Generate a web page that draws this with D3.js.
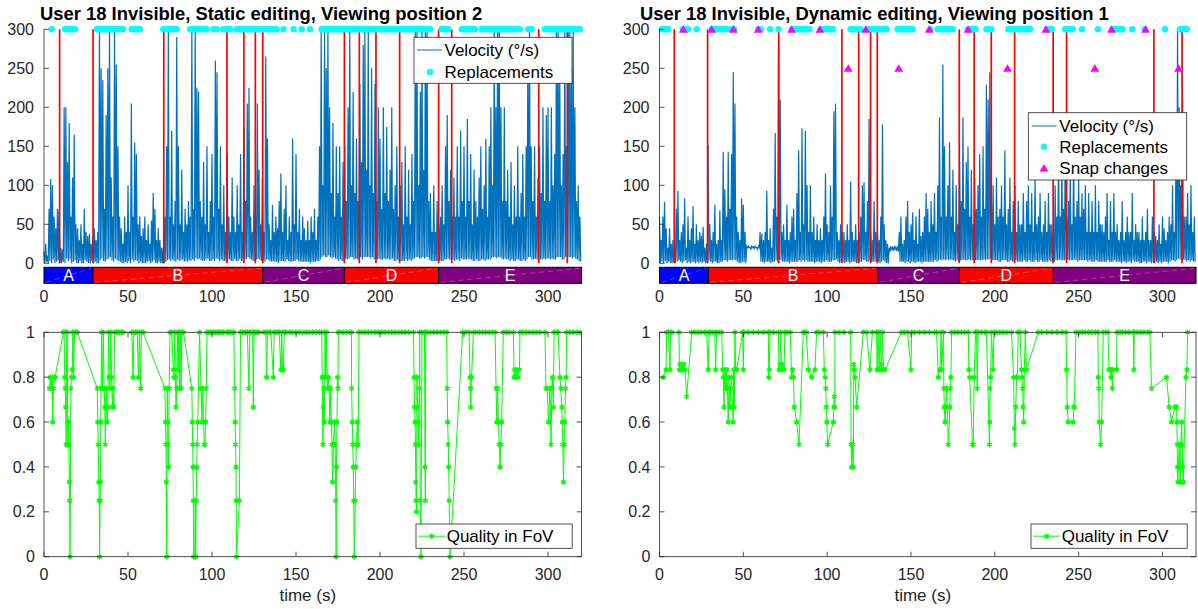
<!DOCTYPE html>
<html>
<head>
<meta charset="utf-8">
<script src="https://cdn.jsdelivr.net/npm/d3@7"></script>
<style>
  body { margin: 0; background: #fff; }
  svg text { font-family: "Liberation Sans", Arial, Helvetica, sans-serif; fill: #262626; }
</style>
</head>
<body>
<svg id="chart" width="1198" height="609"></svg>
<script>
// ---- data ----
const TITLES = ["User 18 Invisible, Static editing, Viewing position 2",
                "User 18 Invisible, Dynamic editing, Viewing position 1"];
const X_TICKS = [0, 50, 100, 150, 200, 250, 300];
const V_TICKS = [0, 50, 100, 150, 200, 250, 300];
const Q_TICKS = [0, 0.2, 0.4, 0.6, 0.8, 1];
const VEL_STEP = 0.5; // seconds between velocity samples

const SEG_NAMES = ["A", "B", "C", "D", "E"];
const SEG_BOUNDS = [0, 29.2, 130.2, 178.8, 234.9, 320];

// head velocity (deg/s), static editing
const VEL_L = [
15,0,25,2,10,0,70,3,108,0,100,5,60,0,45,2,70,4,68,0,
20,0,18,2,200,0,200,6,130,3,180,5,60,0,110,2,165,4,50,0,
45,0,30,3,50,0,25,0,70,4,40,2,35,0,38,0,25,3,35,0,
45,2,30,0,40,0,300,4,250,6,235,3,70,2,190,5,250,6,300,8,
110,4,60,2,300,6,255,4,150,3,60,2,45,0,25,0,60,2,40,0,
100,3,40,0,205,5,60,2,155,4,140,3,50,0,60,2,35,0,45,0,
60,0,30,2,50,3,25,0,55,2,90,4,70,0,30,0,45,2,30,0,
20,0,20,0,60,2,150,4,300,5,60,3,170,5,50,3,80,2,290,5,
150,3,50,4,120,5,40,2,70,3,50,2,80,4,60,3,300,5,70,3,
300,6,225,5,220,6,80,4,60,3,130,3,50,5,150,6,40,3,80,3,
140,5,60,3,260,6,245,5,70,3,150,5,50,3,100,3,40,2,140,5,
60,5,40,3,110,3,60,6,40,3,100,3,50,5,140,3,40,3,175,6,
80,5,205,8,225,6,60,5,40,3,100,3,60,5,205,6,120,5,50,3,
110,3,40,2,265,5,160,5,50,3,30,2,75,3,40,2,60,2,45,0,
80,3,115,3,40,3,70,2,100,5,30,3,60,2,40,2,160,3,50,3,
140,5,40,3,70,2,30,2,60,2,45,2,30,2,55,2,30,0,60,2,
40,2,70,2,30,3,60,3,150,5,300,8,100,10,300,8,250,8,300,10,
200,8,90,6,180,8,60,6,150,5,90,3,150,5,60,3,130,3,150,6,
80,5,200,6,300,8,100,8,220,5,90,6,160,5,80,5,230,8,130,5,
280,8,300,8,120,8,300,8,100,6,250,8,90,5,230,6,80,5,200,6,
160,5,70,5,200,6,90,5,175,6,80,5,120,5,200,6,70,3,100,3,
150,5,60,3,100,3,130,3,50,3,150,5,60,3,120,5,50,3,140,5,
80,6,300,8,300,8,100,6,220,6,300,8,120,6,300,8,300,8,80,5,
90,3,40,3,100,3,40,3,80,3,50,3,60,3,100,3,50,5,150,5,
190,6,80,5,120,3,60,5,110,3,60,5,150,5,60,3,170,6,80,5,
150,5,60,5,185,6,80,5,140,5,50,3,120,3,80,5,60,3,110,3,
150,5,70,5,100,3,160,5,60,5,150,5,200,6,100,8,300,8,200,6,
300,8,300,8,200,6,80,5,200,6,80,5,120,5,60,3,130,5,50,3,
100,3,60,5,150,5,60,3,90,3,140,5,60,3,150,5,260,8,300,8,
150,5,80,5,150,6,60,5,110,3,150,5,90,5,200,6,80,5,190,6,
200,6,80,5,200,6,100,5,140,5,300,8,300,8,250,8,100,5,140,5,
300,8,150,8,300,8,300,8,250,6,300,8,200,6,80,5,100,3,60,2
];

// head velocity (deg/s), dynamic editing
const VEL_R = [
60,0,30,2,60,0,79,3,45,0,20,2,45,0,25,0,30,2,20,0,
70,2,93,4,30,2,40,0,50,2,83,4,20,0,60,2,30,0,45,2,
73,2,25,0,50,2,30,0,40,2,35,0,47,2,20,0,25,0,152,4,
50,2,30,0,40,2,75,2,25,0,30,0,68,2,30,2,143,4,95,4,
60,2,143,4,70,4,140,4,245,5,205,4,60,2,40,0,30,0,83,2,
75,2,40,0,22,20,22,20,20,18,22,20,21,19,22,20,20,18,22,20,
40,2,38,2,30,0,40,2,93,2,30,2,45,0,20,2,70,2,167,4,
60,2,290,5,210,4,40,2,50,2,30,2,75,2,30,0,40,2,60,2,
70,2,30,2,90,2,145,4,40,2,173,4,50,2,170,4,100,2,40,2,
100,2,40,2,60,0,30,2,50,2,30,2,45,0,30,2,60,2,115,4,
50,2,40,2,100,2,60,4,195,4,205,5,40,2,30,0,50,2,40,2,
40,0,30,2,50,2,30,0,105,2,40,2,30,2,50,0,30,0,40,2,
60,2,100,4,104,4,40,2,80,2,185,4,40,2,30,2,80,2,40,2,
40,2,30,0,60,2,178,4,50,2,30,0,25,0,20,15,22,18,20,16,
22,18,21,17,20,15,40,2,60,2,25,2,30,0,60,2,80,2,40,0,
50,2,65,2,30,0,60,2,25,2,70,2,35,0,40,2,60,2,90,2,
70,2,40,2,80,2,50,2,90,4,40,2,100,4,187,5,60,4,255,5,
150,4,60,5,100,4,155,5,60,4,120,4,40,2,100,4,50,2,130,4,
80,4,187,5,70,4,130,4,150,5,60,4,120,4,50,4,110,4,70,4,
100,4,140,4,60,4,150,5,70,4,229,5,210,5,245,6,80,4,100,4,
50,4,110,4,60,2,70,2,100,4,60,4,145,4,50,2,70,2,110,4,
40,2,80,2,100,4,40,2,80,2,50,2,50,2,90,4,40,2,80,2,
100,4,50,2,90,2,40,2,110,4,50,2,60,2,90,4,40,2,50,2,
80,2,40,2,90,4,50,2,50,2,40,2,100,4,60,4,145,5,60,4,
130,4,70,4,150,5,60,4,80,4,120,4,50,4,140,5,60,4,80,2,
110,4,60,4,90,4,70,4,100,4,40,2,90,4,40,2,80,2,40,2,
100,4,40,2,80,2,50,2,50,2,40,2,60,2,90,4,30,2,80,2,
40,2,90,4,40,2,50,2,30,2,40,0,80,2,30,2,40,0,60,2,
40,2,40,0,90,4,30,2,50,2,40,2,40,0,30,0,60,2,30,2,
40,0,70,2,30,2,30,0,60,2,40,0,35,2,30,0,50,2,25,0,
60,2,45,2,30,2,40,0,60,2,50,4,100,4,40,2,120,4,300,6,
200,5,100,5,210,5,60,4,60,2,90,4,50,2,100,4,40,2,60,2
];

// editing cut times (s)
const EDIT_L = [9.3, 29.2, 71.3, 108.9, 119, 125.8, 130.2, 178.8, 187.7, 197.6, 211.7, 234.9, 242.7, 294.5, 311.5];
const EDIT_R = [8.8, 28.7, 71.1, 108.8, 118.8, 125.9, 129.9, 178.8, 187.7, 197.9, 211.8, 234.8, 242.8, 294.9, 311.7];

// replacement times (s), drawn at 300
const REPL_L = [4.6, 12.5, 14, 15.5, 17, 18.5, 31.5, 33, 34.5, 36, 37.5, 39, 40.5, 42, 43.5, 45, 47,
  52.2, 54, 55.5, 57, 71, 72.5, 74, 75.5, 77, 79, 87, 88.5, 90, 91.5, 93, 95, 96.8, 100.8, 102.8,
  106.7, 108.2, 109.5, 110.7, 114.7, 116.2, 117.7, 119.2, 120.7, 122.2, 123.7, 125.2, 126.7, 128.2, 130.5,
  132.5, 134, 135.5, 137, 138.5, 142.5, 148.6, 153.4, 158.3,
  165.3, 166.8, 168.3, 169.8, 171.3, 172.8, 174.3, 175.8, 177.3, 178.8, 180.3, 181.8, 183.3, 184.8, 186.3,
  187.8, 189.3, 190.8, 192.3, 193.8, 195.3, 196.8, 198.3, 199.8, 201.3, 202.8, 204.3, 205.8, 207.3, 208.8,
  210.3, 211.8, 213.3, 214.8, 216.3, 217.8, 219.3, 220.8, 222.3, 223.8, 225.3, 226.8, 228.3, 229.8,
  236.7, 238.2, 239.5, 240.7, 248.6, 250.2, 251.8, 253.4, 255, 256.5,
  260.5, 262, 263.6, 265.2, 266.8, 268.4, 270, 271.6, 273.2, 274.8, 276.4, 278, 279.6, 281.2, 283.3,
  288.3, 290.3, 298.2, 299.8, 301.4, 303, 304.6, 306.2, 307.8, 309.4, 311, 312.6, 314.2, 315.8, 317.4, 319];
const REPL_R = [1.3, 2.6, 3.9, 5.2, 14, 15.5, 17, 22.2, 31, 32.5, 34, 35.5, 37, 38.5, 40, 43, 44.5,
  59, 60.5, 66, 71, 79, 80.5, 82, 83.5, 85, 86.5, 88, 89.5, 96, 97.5, 99, 100.5, 102, 103.5,
  114, 115.5, 117, 118.5, 120, 124, 125.5, 127, 128.5, 130, 131.5, 133, 134.5, 135.5,
  142, 143.5, 145, 146.5, 148, 149.5, 151, 161.6, 166, 167.5, 169, 170.5, 172, 173.5, 175,
  184, 185.5, 187, 188.5, 195, 196.5, 198, 208, 209.5, 211, 212.5, 214, 215.5, 217, 218.5, 220, 221,
  231, 232.5, 234, 242, 243.5, 245, 246.5, 252, 261.5, 270, 271.5, 273, 274.5, 276,
  282, 289.5, 301.5, 310.5, 312, 313.5, 314.5];

// snap changes (dynamic editing only): time and plotted level
const SNAP_T = [14.2, 31.1, 44, 58.9, 78.8, 95.7, 123, 160.9, 184.1, 230.5, 269.6, 289.9,
                112.6, 142.7, 207.6, 259.7, 309.6];
const SNAP_V = [300, 300, 300, 300, 300, 300, 300, 300, 300, 300, 300, 300,
                250, 250, 250, 250, 250];

// quality in FoV: [time, quality]
const QUAL_L = [
[3.2,0.75],[3.8,0.8],[4.3,0.75],[5.0,0.8],[5.2,0.6],[5.6,0.75],[6.4,0.8],[6.6,0.8],
[11.5,1],[12,1],[12.3,0.8],[12.6,0.75],[12.9,0.667],[13.2,0.5],[13.5,1],[13.8,1],[14.2,0.5],[14.5,0.6],[14.8,0.5],
[15.1,0.333],[15.3,0.25],[15.5,0],[16.0,0.75],[16.4,0.8],[16.8,0.833],[17.2,1],[17.6,0.8],[18.2,1],[19,1],[19.8,1],
[31.7,0.75],[32.0,0.6],[32.3,0.5],[32.6,0.333],[32.9,0.25],[33.1,0],[33.4,0.25],[33.6,0.333],[33.8,0.6],[34.0,0.75],
[34.3,1],[34.8,0.75],[35.3,1],[35.8,0.75],[36.2,0.667],[36.5,0.5],[37.0,0.75],[37.5,0.6],[38.0,0.667],[38.4,1],
[38.8,0.8],[39.3,0.75],[39.8,1],[40.2,0.8],[40.7,0.667],[41.2,0.75],[41.6,0.667],[42,1],[43,1],[44,1],[45,1],[46,1],[47,1],
[52.3,1],[53,0.8],[53.5,1],[54.5,1],[55.5,1],[56.2,0.8],[56.8,1],[57.5,0.75],[58,1],[59,1],
[72,0.75],[72.3,0.6],[72.6,0.5],[72.8,0.333],[73.1,0],[73.4,0.75],[73.7,0.6],[73.9,0.5],[74.2,0.4],[74.5,0.75],
[75,1],[76,1],[77,0.833],[77.4,0.8],[77.8,1],[78.2,0.8],[78.6,0.667],[79,0.75],[79.4,1],[79.8,0.833],[80.3,1],
[80.7,0.75],[81.2,1],[81.6,0.75],[82,1],[83,1],
[88,0.75],[88.3,0.6],[88.5,0.5],[88.7,0.4],[88.9,0.25],[89.1,0],[89.7,0],[90,0.25],[90.3,0],[90.6,0.25],[90.9,0.4],
[91.2,0.5],[91.5,0.6],[92.6,1],[93.5,0.75],[94,0.6],[94.5,0.75],[95,0.6],[95.4,0.5],[95.8,0.5],[96.2,0.6],[96.6,0.75],
[97,1],[98,1],[99,1],[100,1],[101,1],[102,1],[103,1],[104,1],[105,1],[106,1],[107,1],[109,1],[110,1],[111,1],[112,1],[113,1],
[113.5,0.75],[113.8,0.6],[114,0.5],[114.3,0.4],[114.4,0.25],[114.6,0],[116.3,0.25],[117,1],[118,1],[119,1],[120,1],[121,1],
[122,0.75],[122.5,1],[123,1],[124.2,1],[124.6,0.667],[125,1],[126,1],[127,1],[128,1],
[131,1],[132,1],[132.5,0.8],[133,1],[134,1],[135,1],[136.5,0.8],[137,1],[138,1],
[139.5,1],[140,1],[141,0.833],[141.5,1],[142,0.833],[142.5,0.833],[143,1],[144,1],[146.4,1],[148,1],[150,1],[152,1],
[154,1],[156,1],[158,1],[160,1],[162,1],[164,1],[165.3,1],
[165.6,0.8],[166,0.5],[166.3,0.667],[166.6,0.75],[166.9,0.6],[167.3,1],[167.7,0.8],[168.2,1],[168.7,0.75],[169.3,0.8],
[169.7,0.75],[170.2,0.6],[170.6,0.75],[171,0.6],[171.4,0.5],[171.8,0.333],[172.3,0.5],[172.8,0.6],[173.3,0.5],
[173.7,0.25],[173.9,0],[174.1,0.4],[174.4,0.6],[174.7,0.8],[175,0.75],[175.2,1],[176,1],[178,1],[180,1],[182,1],[183,1],
[183.1,0.75],[183.5,0.6],[183.8,0.5],[184.1,0.4],[184.4,0.25],[184.7,0],[185.2,0.25],[185.6,0.4],[186,0.5],[186.5,0.6],
[187,0.5],[187.5,1],[189,1],[191,1],[193,1],[195,1],[197,1],[199,1],[201,1],[203,1],[205,1],[207,1],[209,1],[211,1],
[213,1],[215,1],[217,1],[219.9,1],
[220.3,0.8],[220.6,0.667],[220.9,0.6],[221.1,0.5],[221.3,0.333],[221.5,0.25],[221.7,0.2],[222,0.8],[222.4,0.667],
[222.7,0.6],[223,0.5],[223.4,0.75],[223.6,1],[223.9,0.25],[224.4,0],[225,1],[226.5,1],[226.8,0.4],[227,0.25],[227.2,1],
[228,1],[230,1],[232,1],[234,1],[236,1],[238,1],[239.7,1],
[240,0.75],[240.3,0.6],[240.6,0.5],[240.9,0.4],[241.2,0.25],[241.7,0],[249.2,1],[251,1],[253,1],
[253.6,0.8],[253.8,0.75],[254,0.667],[254.2,0.75],[254.5,0.8],[255.6,1],[257,1],[259,1],[261,1],[263,1],[265,1],[267,1],[268.5,1],
[269.1,0.75],[269.5,0.6],[270,0.75],[270.5,0.6],[271,0.5],[271.5,0.4],[271.9,0.5],[272.4,0.6],[273.4,1],[275,1],[277,1],[279.4,1],
[279.8,0.8],[280.2,0.833],[280.8,0.8],[281.5,0.833],[282.2,0.8],[283,0.833],[283.3,1],[285,1],[287,1],[289,1],[291,1],
[293,1],[295,1],[298.2,1],
[298.8,0.75],[299.5,0.75],[300.3,0.6],[301.2,0.75],[301.8,0.5],[302.3,0.75],[302.7,0.8],[303.2,0.667],[303.6,1],[305.2,1],[306,1],
[307.1,0.8],[307.6,0.75],[308.2,0.667],[308.5,0.6],[308.8,0.5],[309.2,0.333],[309.6,0.5],[310,0.6],[310.4,0.75],[310.8,0.8],
[311.1,1],[313,1],[315,1],[317,1],[319,1]
];
const QUAL_R = [
[2.3,0.8],[3.9,0.833],[4.3,1],[5.3,1],[6.3,0.833],[6.6,1],[7.3,1],
[11.6,1],[11.9,0.833],[12.2,0.857],[12.8,0.833],[13.4,0.857],[14,0.833],[14.6,0.857],[15.2,0.833],[16.2,0.714],
[19.2,1],[21,1],[23,1],[25,1],[27,1],[28.1,1],
[29.1,0.833],[29.6,1],[30.1,1],[31.5,1],[33,1],[33.5,0.833],[34,1],[35.5,1],[37.1,1],
[37.7,0.833],[38.1,0.8],[38.5,0.667],[38.9,0.833],[39.3,0.8],[39.7,0.75],[40.1,0.833],[40.5,0.75],[41,0.6],[41.5,0.8],
[42,0.667],[42.5,0.75],[43,0.8],[43.5,0.667],[44,0.6],[44.3,0.833],[44.6,0.667],[45,1],[45.4,0.833],[46,0.833],
[49.6,1],[50,0.833],[50.3,1],[53,1],[56,1],[59,1],[62,1],[64.9,1],[65.2,0.8],[65.5,0.833],[65.9,1],[68,1],[70.9,1],
[71.3,0.833],[71.8,0.857],[72.3,1],[72.8,0.833],[73.3,0.857],[74.3,0.833],[74.8,1],[76,1],[78,1],
[78.8,0.8],[79.4,0.833],[79.9,0.8],[80.4,0.667],[81.8,0.6],[83.2,0.5],[85.8,1],[86.5,1],[87.5,1],[88.8,0.833],
[90.8,0.8],[92.7,0.833],[93.7,1],[95,1],[97.7,1],
[98.3,0.833],[98.8,0.8],[99.2,0.75],[99.5,0.667],[99.8,0.6],[100.3,0.5],[103.7,0.6],[104,0.667],[104.3,0.714],
[104.5,0.667],[104.7,1],[107,1],[110,1],[114,1],
[114.3,0.5],[114.6,0.4],[115,0.5],[115.6,0.4],[115.9,0.857],[116.2,0.833],[116.6,0.8],[117.6,0.667],[121.6,1],
[123.5,1],[125.5,0.833],[127,1],[129.5,1],
[129.8,0.833],[130.4,1],[131,0.833],[131.6,1],[132.2,0.857],[132.5,0.833],[133,1],[133.6,0.833],[134.5,0.833],
[144.4,1],[146,1],[148,1],[150,0.833],[150.4,1],[152,1],[155,1],[158,1],[161,1],[164,1],[165.3,1],
[166.3,0.8],[167.3,0.833],[168,1],[168.3,0.833],[169.4,1],[169.6,0.75],[169.9,0.667],[170.3,0.6],[170.8,0.667],
[171.3,0.75],[172.3,0.5],[173.2,0.667],[173.5,0.75],[173.8,0.8],[174.2,1],[176,1],[178,1],[180,1],[182,1],[184.2,1],
[184.5,0.833],[185,0.8],[186.7,0.5],[187.1,0.5],[187.7,0.8],[188.5,1],[189.1,1],[189.5,0.75],[190.1,1],[192,1],
[194.1,1],[195,1],
[196.8,0.5],[197,0.6],[197.2,0.75],[197.5,0.8],[198,1],[199,0.833],[199.5,1],[201,1],[203,1],[205,1],[207,1],[210,1],
[211.2,0.8],[211.7,0.572],[212,0.5],[212.5,0.667],[213,0.8],[213.5,0.8],[213.9,1],[215,1],
[215.9,0.833],[216.3,0.8],[216.6,0.75],[216.9,0.667],[217.2,0.6],[217.6,0.833],[218.2,1],[218.9,0.833],
[225.9,1],[228,1],[231,1],[234,1],[237,1],[240,1],[242.5,1],
[242.8,0.833],[243.2,0.667],[243.8,0.6],[246.8,0.6],[247.1,0.667],[247.4,0.667],[248.4,1],[250,1],[252,1],
[254,1],[256,1],[258,1],[260,1],[261.5,1],
[261.7,0.8],[262,0.75],[262.3,0.6],[263.1,0.5],[263.7,0.6],[264.7,1],[266,1],[267.5,1],
[268.1,0.833],[269,0.833],[269.3,0.8],[269.6,0.833],[270.1,0.75],[270.6,0.833],[272.6,0.833],[272.9,1],[274.6,1],
[276,1],[278,1],[280,1],[282.6,1],[282.9,0.833],[283.2,1],[285,1],[287,1],[289,1],[291,1],[292.5,1],
[293.5,0.75],[302.4,0.8],[304,0.667],[305.4,0.6],[307.4,0.667],[308.4,0.667],[308.6,0.6],[308.8,0.5],[309,0.4],
[309.2,0.333],[309.5,0.4],[310,0.5],[310.6,0.333],[311,0.5],[311.4,0.6],[311.8,0.5],[312,0.4],[312.2,0.333],
[312.4,0.333],[314,0.8],[314.6,0.833],[315,1]
];

// ---- drawing ----
const svg = d3.select("#chart");
const SEG_COLORS = {A: "#0000ff", B: "#ff0000", C: "#800080", D: "#ff0000", E: "#800080"};
const AXIS = "#262626";

const panels = [
  {title: TITLES[0], titleX: 40, left: 44, right: 581.6, vel: VEL_L, edits: EDIT_L, repl: REPL_L,
   snapT: [], snapV: [], qual: QUAL_L},
  {title: TITLES[1], titleX: 640, left: 659.5, right: 1196, vel: VEL_R, edits: EDIT_R, repl: REPL_R,
   snapT: SNAP_T, snapV: SNAP_V, qual: QUAL_R}
];

const vTop = 29.3, vBottom = 263.3;
const barTop = 267.3, barBottom = 283.3;
const qTop = 332.3, qBottom = 556.7;
const tickLen = 5;

panels.forEach((p, pi) => {
  const x = d3.scaleLinear().domain([0, 320]).range([p.left, p.right]);
  const yV = d3.scaleLinear().domain([0, 300]).range([vBottom, vTop]);
  const yQ = d3.scaleLinear().domain([0, 1]).range([qBottom, qTop]);

  // title
  svg.append("text")
    .attr("x", p.titleX).attr("y", 20)
    .attr("font-size", 18.4).attr("font-weight", "bold")
    .style("fill", "#000")
    .text(p.title);

  // ---- velocity panel ----
  const top = svg.append("g");
  top.append("path")
    .datum(p.vel)
    .attr("d", d3.line().x((d, i) => x(i * VEL_STEP)).y(d => yV(d)))
    .attr("fill", "none")
    .attr("stroke", "#0072bd")
    .attr("stroke-width", 1.2)
    .attr("stroke-linejoin", "miter");

  top.selectAll(".edit").data(p.edits).join("line")
    .attr("x1", d => x(d)).attr("x2", d => x(d))
    .attr("y1", yV(0)).attr("y2", yV(300))
    .attr("stroke", "#ff0000").attr("stroke-width", 1.7);

  top.selectAll(".repl").data(p.repl).join("circle")
    .attr("cx", d => x(d)).attr("cy", yV(300)).attr("r", 3.2)
    .attr("fill", "#00ffff");

  const tri = d3.symbol(d3.symbolTriangle, 34);
  top.selectAll(".snap").data(p.snapT).join("path")
    .attr("d", tri)
    .attr("transform", (d, i) => `translate(${x(d)},${yV(p.snapV[i]) + 1})`)
    .attr("fill", "#ff00ff");

  // left axis with inward ticks
  top.append("line").attr("x1", p.left).attr("x2", p.left).attr("y1", vTop).attr("y2", vBottom)
    .attr("stroke", AXIS).attr("stroke-width", 0.8);
  V_TICKS.forEach(v => {
    top.append("line").attr("x1", p.left).attr("x2", p.left + tickLen)
      .attr("y1", yV(v)).attr("y2", yV(v)).attr("stroke", AXIS).attr("stroke-width", 0.8);
    top.append("text").attr("x", p.left - 10).attr("y", yV(v)).attr("dy", "0.35em")
      .attr("text-anchor", "end").attr("font-size", 16).text(v);
  });

  // ---- segment bar ----
  const bar = svg.append("g");
  SEG_NAMES.forEach((name, i) => {
    const x0 = x(SEG_BOUNDS[i]), x1 = x(SEG_BOUNDS[i + 1]);
    bar.append("rect").attr("x", x0).attr("y", barTop).attr("width", x1 - x0).attr("height", barBottom - barTop)
      .attr("fill", SEG_COLORS[name]);
    bar.append("line").attr("x1", x0 + 2).attr("y1", barBottom - 1).attr("x2", x1 - 2).attr("y2", barTop + 1)
      .attr("stroke", "#fff").attr("stroke-opacity", 0.35).attr("stroke-width", 0.8)
      .attr("stroke-dasharray", "5,4");
    bar.append("text").attr("x", (x0 + x1) / 2).attr("y", barBottom - 2.6)
      .attr("text-anchor", "middle").attr("font-size", 16).style("fill", "#fff").text(name);
    if (i > 0) {
      bar.append("line").attr("x1", x0).attr("x2", x0).attr("y1", barTop).attr("y2", barBottom)
        .attr("stroke", "#000").attr("stroke-width", 1);
    }
  });
  bar.append("rect").attr("x", p.left).attr("y", barTop).attr("width", p.right - p.left)
    .attr("height", barBottom - barTop).attr("fill", "none").attr("stroke", "#000").attr("stroke-width", 1);
  X_TICKS.forEach(t => {
    bar.append("line").attr("x1", x(t)).attr("x2", x(t)).attr("y1", barBottom).attr("y2", barBottom - 3)
      .attr("stroke", "#000").attr("stroke-opacity", 0.4).attr("stroke-width", 0.8);
    bar.append("text").attr("x", x(t)).attr("y", 302).attr("text-anchor", "middle")
      .attr("font-size", 16).text(t);
  });

  // ---- quality panel ----
  const bot = svg.append("g");
  bot.append("path")
    .datum(p.qual)
    .attr("d", d3.line().x(d => x(d[0])).y(d => yQ(d[1])))
    .attr("fill", "none").attr("stroke", "#00ff00").attr("stroke-width", 1);
  const star = d3.symbol(d3.symbolAsterisk, 20);
  bot.selectAll(".qm").data(p.qual).join("path")
    .attr("d", star)
    .attr("transform", d => `translate(${x(d[0])},${yQ(d[1])})`)
    .attr("fill", "none").attr("stroke", "#00ff00").attr("stroke-width", 1.6);

  bot.append("rect").attr("x", p.left).attr("y", qTop).attr("width", p.right - p.left)
    .attr("height", qBottom - qTop).attr("fill", "none").attr("stroke", AXIS).attr("stroke-width", 0.8);
  Q_TICKS.forEach(v => {
    bot.append("line").attr("x1", p.left).attr("x2", p.left + tickLen).attr("y1", yQ(v)).attr("y2", yQ(v))
      .attr("stroke", AXIS).attr("stroke-width", 0.8);
    bot.append("line").attr("x1", p.right).attr("x2", p.right - tickLen).attr("y1", yQ(v)).attr("y2", yQ(v))
      .attr("stroke", AXIS).attr("stroke-width", 0.8);
    bot.append("text").attr("x", p.left - 9).attr("y", yQ(v)).attr("dy", "0.35em")
      .attr("text-anchor", "end").attr("font-size", 16).text(v);
  });
  X_TICKS.forEach(t => {
    bot.append("line").attr("x1", x(t)).attr("x2", x(t)).attr("y1", qBottom).attr("y2", qBottom - tickLen)
      .attr("stroke", AXIS).attr("stroke-width", 0.8);
    bot.append("line").attr("x1", x(t)).attr("x2", x(t)).attr("y1", qTop).attr("y2", qTop + tickLen)
      .attr("stroke", AXIS).attr("stroke-width", 0.8);
    bot.append("text").attr("x", x(t)).attr("y", 580).attr("text-anchor", "middle")
      .attr("font-size", 16).text(t);
  });
  bot.append("text").attr("x", (p.left + p.right) / 2 - 5).attr("y", 601)
    .attr("text-anchor", "middle").attr("font-size", 17).text("time (s)");

  // ---- legends ----
  const lg = svg.append("g");
  if (pi === 0) {
    lg.append("rect").attr("x", 414).attr("y", 37.3).attr("width", 158).attr("height", 46)
      .attr("fill", "#fff").attr("stroke", AXIS).attr("stroke-width", 0.8);
    lg.append("line").attr("x1", 417).attr("x2", 442).attr("y1", 50).attr("y2", 50)
      .attr("stroke", "#0072bd").attr("stroke-width", 1);
    lg.append("text").attr("x", 444.5).attr("y", 50).attr("dy", "0.35em").attr("font-size", 17).style("fill", "#000")
      .text("Velocity (°/s)");
    lg.append("circle").attr("cx", 430).attr("cy", 72).attr("r", 3.2).attr("fill", "#00ffff");
    lg.append("text").attr("x", 444.5).attr("y", 72).attr("dy", "0.35em").attr("font-size", 17).style("fill", "#000")
      .text("Replacements");
  } else {
    lg.append("rect").attr("x", 1028.3).attr("y", 112.7).attr("width", 158.4).attr("height", 67.3)
      .attr("fill", "#fff").attr("stroke", AXIS).attr("stroke-width", 0.8);
    lg.append("line").attr("x1", 1031.7).attr("x2", 1056.7).attr("y1", 126).attr("y2", 126)
      .attr("stroke", "#0072bd").attr("stroke-width", 1);
    lg.append("text").attr("x", 1059.3).attr("y", 126).attr("dy", "0.35em").attr("font-size", 17).style("fill", "#000")
      .text("Velocity (°/s)");
    lg.append("circle").attr("cx", 1044).attr("cy", 146.7).attr("r", 3.2).attr("fill", "#00ffff");
    lg.append("text").attr("x", 1059.3).attr("y", 146.7).attr("dy", "0.35em").attr("font-size", 17).style("fill", "#000")
      .text("Replacements");
    lg.append("path").attr("d", tri).attr("transform", "translate(1044,169)").attr("fill", "#ff00ff");
    lg.append("text").attr("x", 1059.3).attr("y", 168.3).attr("dy", "0.35em").attr("font-size", 17).style("fill", "#000")
      .text("Snap changes");
  }
  const qx = pi === 0 ? 416 : 1031;
  lg.append("rect").attr("x", qx).attr("y", 524).attr("width", 156.2).attr("height", 24.3)
    .attr("fill", "#fff").attr("stroke", AXIS).attr("stroke-width", 0.8);
  lg.append("line").attr("x1", qx + 2.5).attr("x2", qx + 29).attr("y1", 536.2).attr("y2", 536.2)
    .attr("stroke", "#00ff00").attr("stroke-width", 1);
  lg.append("path").attr("d", star).attr("transform", `translate(${qx + 15.7},536.2)`)
    .attr("fill", "none").attr("stroke", "#00ff00").attr("stroke-width", 1.6);
  lg.append("text").attr("x", qx + 30.7).attr("y", 536.2).attr("dy", "0.35em").attr("font-size", 17).style("fill", "#000")
    .text("Quality in FoV");
});
</script>
</body>
</html>
